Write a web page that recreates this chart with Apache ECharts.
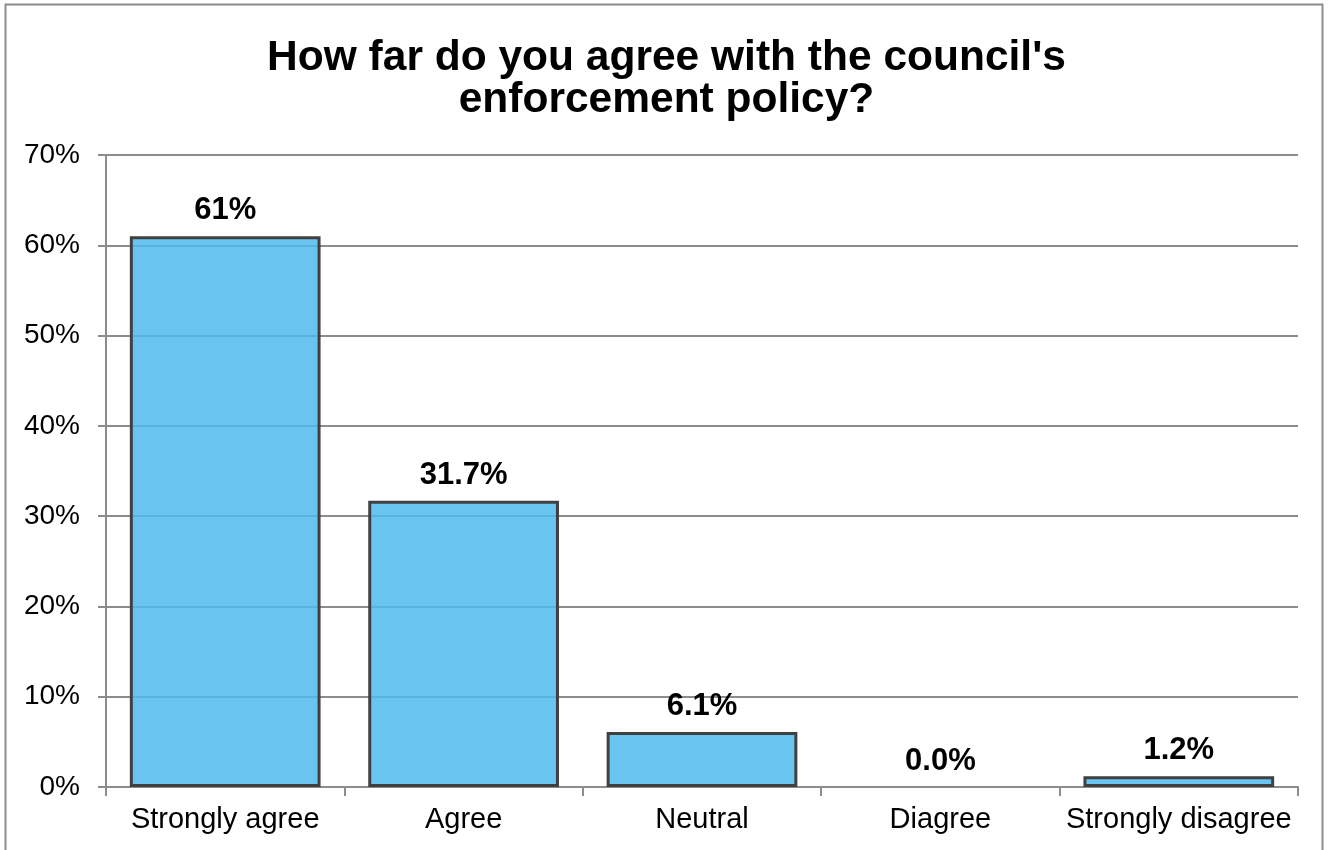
<html>
    <head>
        <meta charset="utf-8">
        <script src="https://cdn.jsdelivr.net/npm/echarts@6/dist/echarts.min.js"></script>
        <style>
            html, body { margin: 0; padding: 0; background: #fff; }
            #main { width: 1333px; height: 850px; }
        </style>
    </head>
    <body>
        <div id="main"></div>
        <script>

        var categories = ['Strongly agree', 'Agree', 'Neutral', 'Diagree', 'Strongly disagree'];
        var values = [61, 31.7, 6.1, 0, 1.2];
        var valueLabels = ['61%', '31.7%', '6.1%', '0.0%', '1.2%'];

        var myChart = echarts.init(document.getElementById('main'));

        var font = 'Liberation Sans, Arial, sans-serif';

        // a zero bar has no outline in the original
        var barData = values.map(function (v) {
            return v === 0 ? { value: v, itemStyle: { borderWidth: 0 } } : v;
        });

        var option = {
            animation: false,
            backgroundColor: '#fff',
            title: {
                text: "How far do you agree with the council's\nenforcement policy?",
                left: 'center',
                top: 32,
                textStyle: {
                    fontFamily: font,
                    fontWeight: 'bold',
                    fontSize: 42.5,
                    lineHeight: 42,
                    color: '#000'
                }
            },
            graphic: [
                {
                    type: 'rect',
                    shape: { x: 5.5, y: 4.5, width: 1317, height: 860 },
                    style: { fill: null, stroke: '#8c8c8c', lineWidth: 2 },
                    silent: true
                }
            ],
            grid: {
                left: 106,
                right: 35,
                top: 155,
                bottom: 63
            },
            xAxis: {
                type: 'category',
                data: categories,
                axisLine: { lineStyle: { color: '#8c8c8c', width: 2 } },
                axisTick: { show: true, length: 9, lineStyle: { color: '#8c8c8c', width: 2 } },
                axisLabel: {
                    interval: 0,
                    fontFamily: font,
                    fontSize: 29,
                    color: '#000',
                    margin: 18
                }
            },
            yAxis: {
                type: 'value',
                min: 0,
                max: 70,
                interval: 10,
                axisLine: { show: true, lineStyle: { color: '#8c8c8c', width: 2 } },
                axisTick: { show: true, length: 8, lineStyle: { color: '#8c8c8c', width: 2 } },
                splitLine: { lineStyle: { color: '#8c8c8c', width: 2 } },
                axisLabel: {
                    fontFamily: font,
                    fontSize: 28,
                    color: '#000',
                    margin: 26,
                    formatter: '{value}%'
                }
            },
            series: [
                {
                    type: 'bar',
                    data: barData,
                    barCategoryGap: '20%',
                    itemStyle: {
                        // slightly see-through so the gridlines show across the bars
                        color: 'rgba(79,187,236,0.85)',
                        borderColor: '#404040',
                        borderWidth: 3
                    },
                    label: {
                        show: true,
                        position: 'top',
                        distance: 10,
                        fontFamily: font,
                        fontWeight: 'bold',
                        fontSize: 31,
                        color: '#000',
                        formatter: function (p) {
                            return valueLabels[p.dataIndex];
                        }
                    }
                }
            ]
        };

        myChart.setOption(option);

        </script>
    </body>
</html>
